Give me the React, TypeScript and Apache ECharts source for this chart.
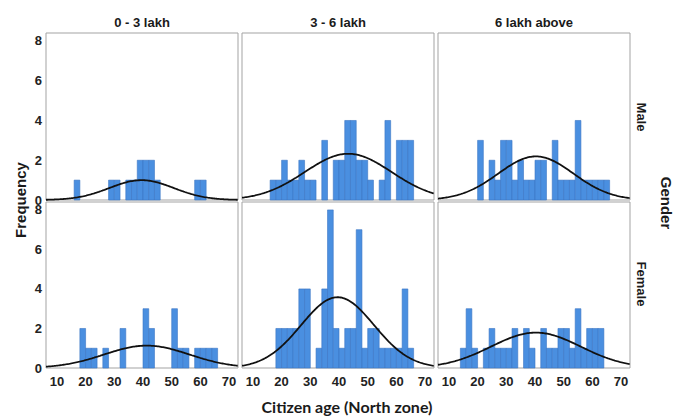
import React, { useEffect, useRef } from "react";
import * as echarts from "echarts";

// ---- data ----
const columnTitles = ["0 - 3 lakh", "3 - 6 lakh", "6 lakh above"];
const rowTitles = ["Male", "Female"];
const xTicks = [10, 20, 30, 40, 50, 60, 70];
const yTicks = [0, 2, 4, 6, 8];
const BIN_W = 2;

const maleLowStarts = [16, 28, 30, 34, 36, 38, 40, 42, 44, 58, 60];
const maleLowCounts = [1, 1, 1, 1, 1, 2, 2, 2, 1, 1, 1];
const maleMidStarts = [16, 18, 20, 22, 24, 26, 28, 30, 34, 38, 40, 42, 44, 46, 48, 50, 54, 56, 60, 62, 64];
const maleMidCounts = [1, 1, 2, 1, 1, 2, 1, 1, 3, 2, 2, 4, 4, 2, 2, 1, 1, 4, 3, 3, 3];
const maleHighStarts = [20, 24, 26, 28, 30, 32, 34, 36, 38, 40, 42, 46, 48, 50, 52, 54, 56, 58, 60, 62, 64];
const maleHighCounts = [3, 2, 1, 3, 3, 1, 2, 1, 1, 2, 2, 3, 1, 1, 1, 4, 1, 1, 1, 1, 1];
const femaleLowStarts = [18, 20, 22, 26, 32, 40, 42, 50, 52, 54, 58, 60, 62, 64];
const femaleLowCounts = [2, 1, 1, 1, 2, 3, 2, 3, 1, 1, 1, 1, 1, 1];
const femaleMidStarts = [18, 20, 22, 24, 26, 28, 32, 34, 36, 38, 40, 42, 44, 46, 48, 50, 52, 54, 56, 58, 60, 62, 64];
const femaleMidCounts = [2, 2, 2, 2, 4, 4, 1, 4, 8, 2, 1, 2, 2, 7, 1, 2, 2, 1, 1, 1, 1, 4, 1];
const femaleHighStarts = [14, 16, 18, 22, 24, 26, 28, 30, 32, 36, 38, 42, 44, 46, 48, 50, 52, 54, 56, 58, 60, 62];
const femaleHighCounts = [1, 3, 1, 1, 2, 1, 1, 1, 2, 2, 1, 2, 1, 1, 2, 2, 1, 3, 1, 2, 2, 2];

// fitted normal curve parameters (mean, sd) per panel
const curveMeans = [39.5, 43.2, 40.3, 41.3, 39.5, 40.3];
const curveSds = [11.2, 15.1, 13.1, 14.8, 12.7, 15.6];

const panelStarts = [maleLowStarts, maleMidStarts, maleHighStarts, femaleLowStarts, femaleMidStarts, femaleHighStarts];
const panelCounts = [maleLowCounts, maleMidCounts, maleHighCounts, femaleLowCounts, femaleMidCounts, femaleHighCounts];

const X_MIN = 6.2;
const X_MAX = 73.1;
const Y_MAX = 8.4;

const FONT = "'Liberation Sans', Arial, sans-serif";

function normalCurve(mean: number, sd: number, n: number): number[][] {
  const pts: number[][] = [];
  for (let x = X_MIN; x <= X_MAX + 1e-9; x += 0.4) {
    const z = (x - mean) / sd;
    pts.push([x, (n * BIN_W * Math.exp(-0.5 * z * z)) / (sd * Math.sqrt(2 * Math.PI))]);
  }
  return pts;
}

export default function App() {
  const ref = useRef<HTMLDivElement>(null);
  useEffect(() => {
    if (!ref.current) return;
    const chart = echarts.init(ref.current, null, { renderer: "svg" });
    const lefts = [46, 242, 438];
    const tops = [33, 202];
    const heights = [167, 166];
    const grids: any[] = [];
    const xAxes: any[] = [];
    const yAxes: any[] = [];
    const series: any[] = [];
    for (let i = 0; i < 6; i++) {
      const r = Math.floor(i / 3);
      const c = i % 3;
      grids.push({
        left: lefts[c],
        top: tops[r],
        width: 192,
        height: heights[r],
        show: true,
        borderColor: "#a3a3a3",
        borderWidth: 1,
        backgroundColor: "#fff",
      });
      xAxes.push({
        type: "value",
        gridIndex: i,
        min: X_MIN,
        max: X_MAX,
        axisLine: { show: false },
        axisTick: { show: false },
        splitLine: { show: false },
        axisLabel: {
          show: r === 1,
          customValues: xTicks,
          margin: 7,
          fontSize: 13,
          fontWeight: "bold",
          color: "#222",
          fontFamily: FONT,
        },
      });
      yAxes.push({
        type: "value",
        gridIndex: i,
        min: 0,
        max: Y_MAX,
        axisLine: { show: false },
        axisTick: { show: false },
        splitLine: { show: false },
        axisLabel: {
          show: c === 0,
          customValues: yTicks,
          margin: 4,
          fontSize: 13,
          fontWeight: "bold",
          color: "#222",
          fontFamily: FONT,
        },
      });
      const starts = panelStarts[i];
      const counts = panelCounts[i];
      const n = counts.reduce((a, b) => a + b, 0);
      series.push({
        type: "custom",
        xAxisIndex: i,
        yAxisIndex: i,
        data: starts.map((s, k) => [s, counts[k]]),
        encode: { x: 0, y: 1 },
        renderItem: (params: any, api: any) => {
          const s = api.value(0);
          const v = api.value(1);
          const p0 = api.coord([s, v]);
          const p1 = api.coord([s + BIN_W, 0]);
          return {
            type: "rect",
            shape: { x: p0[0], y: p0[1], width: p1[0] - p0[0], height: p1[1] - p0[1] },
            style: { fill: "#4a8fe0", stroke: "#3a76c4", lineWidth: 0.6 },
          };
        },
        z: 2,
      });
      series.push({
        type: "line",
        xAxisIndex: i,
        yAxisIndex: i,
        data: normalCurve(curveMeans[i], curveSds[i], n),
        showSymbol: false,
        smooth: false,
        lineStyle: { color: "#111", width: 1.8 },
        z: 3,
      });
    }
    const textStyle = (text: string, size: number) => ({
      text,
      fill: "#1a1a1a",
      font: `bold ${size}px ${FONT}`,
      align: "center",
      verticalAlign: "middle",
    });
    const graphics: any[] = [];
    const colCenters = [142, 338, 534];
    columnTitles.forEach((t, k) => {
      graphics.push({ type: "text", x: colCenters[k], y: 22, style: textStyle(t, 13) });
    });
    const rowCenters = [117, 284];
    rowTitles.forEach((t, k) => {
      graphics.push({ type: "text", x: 641, y: rowCenters[k], rotation: -Math.PI / 2, style: textStyle(t, 13) });
    });
    graphics.push({ type: "text", x: 666, y: 203, rotation: -Math.PI / 2, style: textStyle("Gender", 15) });
    graphics.push({ type: "text", x: 20, y: 200, rotation: Math.PI / 2, style: textStyle("Frequency", 15) });
    graphics.push({
      type: "text",
      x: 347,
      y: 406,
      style: {
        text: "Citizen age (North zone)",
        fill: "#1a1a1a",
        font: "bold 16px Lato, 'Open Sans', sans-serif",
        align: "center",
        verticalAlign: "middle",
      },
    });
    chart.setOption({
      animation: false,
      backgroundColor: "#fff",
      grid: grids,
      xAxis: xAxes,
      yAxis: yAxes,
      series,
      graphic: graphics,
    });
    return () => chart.dispose();
  }, []);
  return (
    <div
      ref={ref}
      style={{ position: "fixed", left: 0, top: 0, width: 684, height: 417, background: "#fff" }}
    />
  );
}
